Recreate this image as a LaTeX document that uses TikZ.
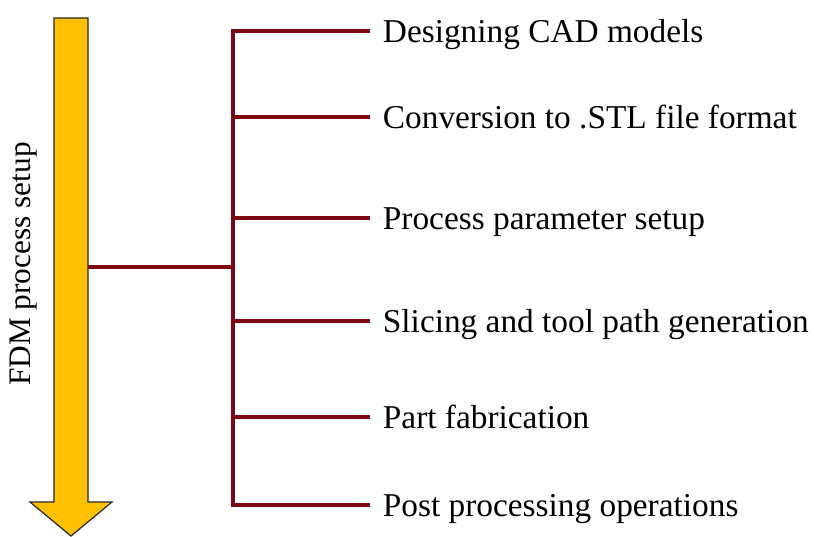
\documentclass[tikz,border=0pt]{standalone}
\usepackage{fontspec}
\setmainfont{Liberation Serif}
\definecolor{arrowfill}{RGB}{255,192,0}
\definecolor{linered}{RGB}{125,8,18}
\begin{document}
\begin{tikzpicture}[x=0.75pt,y=-0.75pt,
  conn/.style={draw=linered,line width=2.6pt,line join=miter},
  label/.style={anchor=west,inner xsep=9.5pt,inner ysep=0pt,text height=16.6pt,text depth=0pt,font=\fontsize{25}{30}\selectfont}]
\useasboundingbox (0,0) rectangle (814,536);
% arrow
\draw[fill=arrowfill,draw=black!85,line width=0.9pt,line join=miter]
  (54,18) -- (88,18) -- (88,502) -- (112,502) -- (71,536) -- (30,502) -- (54,502) -- cycle;
\node[rotate=90,font=\fontsize{23.5}{28}\selectfont,inner sep=0pt] (fdm) at (24,264) {FDM process setup};
% labels
\node[label] (n1) at (370,31) {Designing CAD models};
\node[label] (n2) at (370,117) {Conversion to .STL file format};
\node[label] (n3) at (370,218) {Process parameter setup};
\node[label] (n4) at (370,321) {Slicing and tool path generation};
\node[label] (n5) at (370,417) {Part fabrication};
\node[label] (n6) at (370,505) {Post processing operations};
\coordinate (a) at (88,267);
\coordinate (m) at (233,267);
\coordinate (t1) at (233,31);
\coordinate (t6) at (233,505);
% connectors
\draw[conn] (a) -- (m);
\draw[conn] (n1.west) -- (t1) -- (t6) -- (n6.west);
\foreach \n in {n2,n3,n4,n5} \draw[conn] (\n.west) -- (t1 |- \n.west);
\end{tikzpicture}
\end{document}
